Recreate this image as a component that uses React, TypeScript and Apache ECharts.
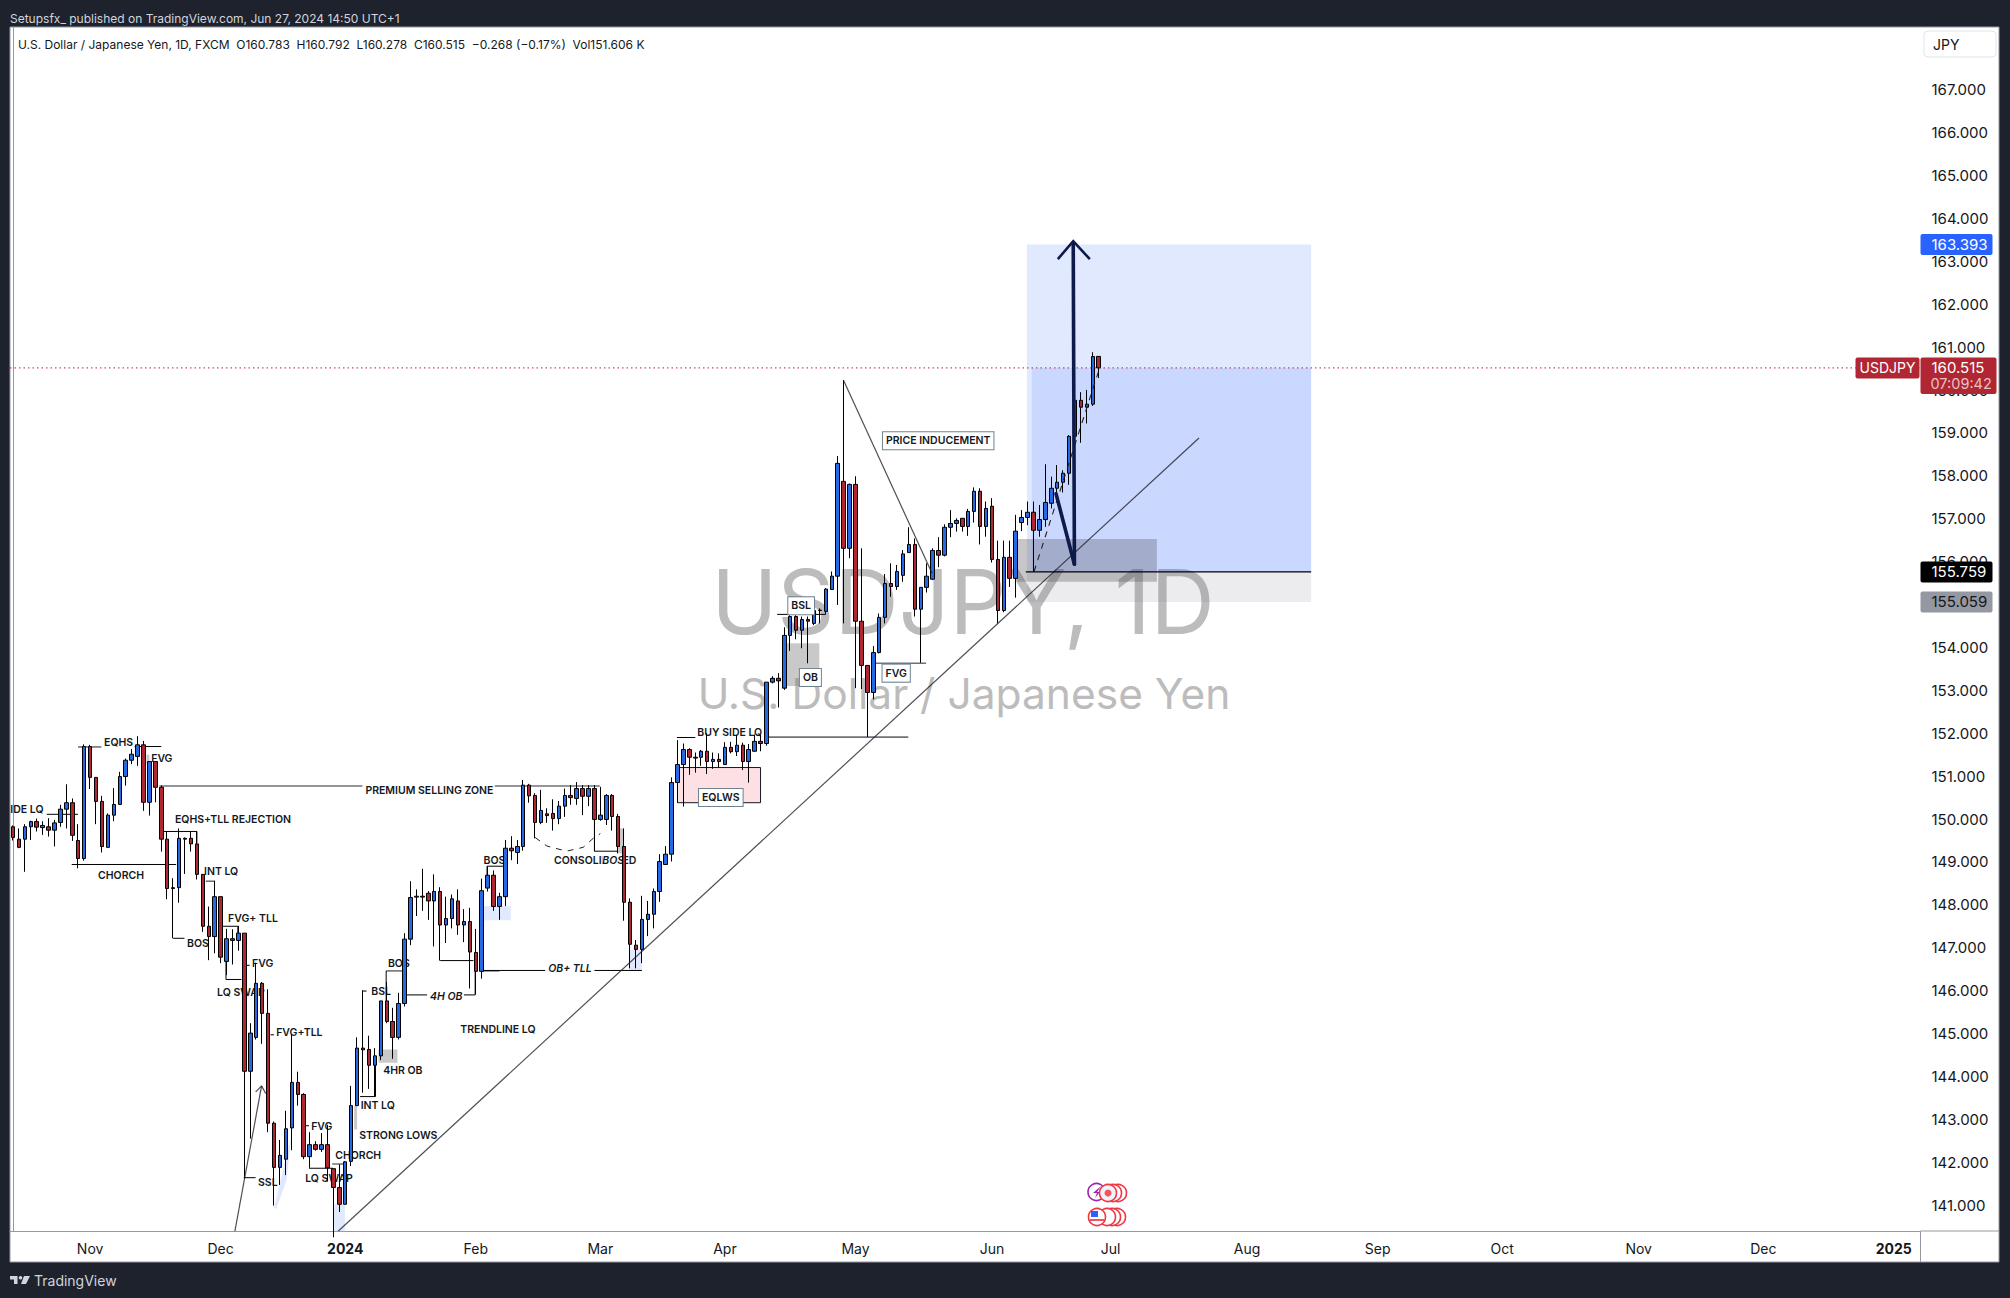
import React, { useEffect, useRef } from "react";
import * as echarts from "echarts";

const FONT = "Inter, 'Noto Sans', sans-serif";

// [open, close, low, high] for each daily bar
const ohlc: number[][] = [
  [149.82,149.57,149.50,149.85],[149.53,149.34,149.32,149.78],[149.53,149.82,148.77,149.88],[149.82,149.94,149.51,149.96],
  [149.94,149.81,149.71,150.01],[149.80,149.85,149.63,149.95],[149.82,149.74,149.59,150.02],[149.74,149.91,149.36,149.98],
  [149.92,150.23,149.82,150.33],[150.23,150.38,149.78,150.81],[150.38,149.62,149.49,150.48],[149.50,149.08,148.85,149.88],
  [149.08,151.69,149.03,151.74],[151.69,150.97,150.70,151.73],[150.97,150.41,149.88,150.97],[150.41,149.36,149.22,150.54],
  [149.34,150.09,149.34,150.13],[150.09,150.34,149.95,150.72],[150.34,150.99,150.34,151.10],[150.99,151.37,150.78,151.41],
  [151.37,151.51,151.28,151.63],[151.46,151.73,151.24,151.93],[151.73,150.39,150.19,151.82],[150.39,151.34,150.08,151.34],
  [151.34,150.74,150.39,151.34],[150.74,149.53,149.24,150.78],[149.53,148.38,148.13,149.72],[148.40,148.38,147.22,148.62],
  [148.40,149.55,148.05,149.78],[149.55,149.53,148.72,149.57],[149.55,149.42,149.24,149.70],[149.42,148.71,148.59,149.72],
  [148.71,147.50,147.37,148.71],[147.50,147.26,146.71,147.96],[147.26,148.19,146.87,148.56],[148.19,146.78,146.64,148.19],
  [146.68,147.21,146.36,147.44],[147.21,147.17,146.61,147.43],[147.17,147.34,146.93,147.51],[147.34,144.12,141.62,147.34],
  [144.12,145.01,142.55,145.24],[144.91,146.17,144.86,146.65],[146.17,145.47,144.76,146.20],[145.47,142.91,142.70,146.03],
  [142.91,141.88,140.99,142.95],[141.88,142.16,141.47,142.52],[142.07,142.78,141.70,143.20],[142.80,143.86,142.28,144.99],
  [143.86,143.58,143.32,144.11],[143.58,142.13,142.07,143.61],[142.13,142.41,141.87,142.70],[142.41,142.30,142.27,142.49],
  [142.30,142.41,142.24,142.68],[142.41,141.87,141.55,142.87],[141.85,141.41,140.25,141.85],[141.41,141.02,140.84,141.95],
  [141.02,142.01,141.02,142.03],[142.02,143.32,141.91,143.78],[143.32,144.66,143.32,144.91],[144.66,144.62,143.62,146.01],
  [144.63,144.26,143.71,144.95],[144.26,144.48,143.53,144.66],[144.48,145.76,144.38,145.76],[145.76,145.28,145.24,146.20],
  [145.28,144.91,144.41,145.60],[144.91,145.70,144.86,145.95],[145.70,147.20,145.63,147.34],[147.20,148.17,147.06,148.55],
  [148.18,148.20,147.74,148.36],[148.20,148.18,147.86,148.84],[148.27,148.09,147.65,148.32],[148.09,148.31,147.03,148.71],
  [148.31,147.53,146.70,148.41],[147.53,147.68,147.11,148.19],[147.68,148.14,147.45,148.24],[148.09,147.53,147.30,148.36],
  [147.53,147.61,147.13,147.90],[147.61,146.90,146.05,147.93],[146.89,146.45,145.91,147.44],[146.45,148.33,146.28,148.61],
  [148.39,148.69,148.31,148.90],[148.69,147.96,147.86,148.80],[147.96,148.19,147.65,148.28],[148.19,149.32,147.97,149.51],
  [149.32,149.26,149.04,149.60],[149.22,149.36,148.95,149.51],[149.36,150.79,149.26,150.91],[150.79,150.54,150.38,150.82],
  [150.55,149.92,149.55,150.60],[149.92,150.20,149.88,150.68],[150.12,150.08,149.91,150.25],[150.13,150.01,149.73,150.46],
  [150.01,150.30,149.88,150.42],[150.30,150.55,150.05,150.71],[150.55,150.50,150.33,150.79],[150.48,150.71,150.33,150.86],
  [150.71,150.53,150.09,150.79],[150.53,150.71,150.30,150.79],[150.71,149.99,149.25,150.79],[149.99,150.09,149.96,150.75],
  [149.99,150.55,149.86,150.58],[150.55,150.06,149.73,150.58],[150.06,149.36,149.20,150.12],[149.36,148.06,147.63,149.78],
  [148.06,147.08,146.52,148.15],[147.06,146.96,146.52,147.18],[146.96,147.66,146.64,148.21],[147.66,147.78,147.27,148.09],
  [147.78,148.31,147.45,148.38],[148.31,149.01,148.07,149.18],[148.94,149.18,148.94,149.37],[149.18,150.85,149.01,150.97],
  [150.85,151.27,150.38,151.84],[151.27,151.62,150.29,151.76],[151.62,151.44,151.03,151.65],[151.44,151.42,151.08,151.55],
  [151.44,151.58,151.24,151.61],[151.58,151.34,151.05,152.00],[151.34,151.39,151.17,151.55],[151.39,151.34,151.20,151.53],
  [151.27,151.67,151.27,151.79],[151.67,151.57,151.53,151.80],[151.57,151.72,151.47,151.96],[151.72,151.34,151.14,151.78],
  [151.34,151.62,150.85,151.75],[151.58,151.81,151.57,151.97],[151.81,151.76,151.58,151.97],[151.76,153.19,151.71,153.19],
  [153.19,153.28,153.16,153.33],[153.28,153.22,152.60,153.40],[153.05,154.28,153.01,154.47],[154.28,154.72,153.92,154.75],
  [154.72,154.40,154.19,154.75],[154.40,154.65,153.98,154.72],[154.65,154.61,153.63,154.72],[154.56,154.86,154.52,154.89],
  [154.87,154.86,154.56,154.91],[154.84,155.36,154.78,155.38],[155.35,155.66,155.34,155.77],[155.66,158.29,154.99,158.46],
  [157.87,156.31,154.56,160.23],[156.31,157.80,156.08,157.82],[157.80,154.61,153.05,157.99],[154.61,153.58,153.03,156.31],
  [153.58,152.95,151.91,153.59],[152.95,153.88,152.79,154.03],[153.88,154.70,153.86,154.79],[154.70,155.49,154.56,155.71],
  [155.49,155.42,155.18,155.96],[155.42,155.77,155.34,155.92],[155.68,156.18,155.53,156.27],[156.21,156.40,156.21,156.80],
  [156.40,154.89,154.72,156.54],[154.89,155.40,153.64,155.40],[155.40,155.66,155.28,155.96],[155.59,156.26,155.57,156.31],
  [156.26,156.15,155.87,156.57],[156.15,156.80,156.12,156.87],[156.80,156.89,156.57,157.20],[156.89,156.96,156.70,157.01],
  [157.01,156.82,156.70,157.01],[156.82,157.17,156.60,157.23],[157.17,157.64,156.91,157.73],[157.64,156.82,156.40,157.71],
  [156.82,157.24,156.58,157.40],[157.29,156.05,155.98,157.48],[156.05,154.86,154.56,156.49],[154.86,156.10,154.82,156.49],
  [156.10,155.61,155.41,156.49],[155.61,156.71,155.16,157.09],[156.91,157.03,156.71,157.20],[157.03,157.15,156.85,157.40],
  [157.15,156.73,155.77,157.40],[156.73,156.98,156.58,157.32],[156.98,157.38,156.81,158.27],[157.36,157.71,157.24,157.98],
  [157.71,157.85,157.59,158.25],[157.85,158.06,157.61,158.13],[158.06,158.92,157.79,158.95],[158.92,159.76,158.72,159.80],
  [159.76,159.60,158.77,159.95],[159.60,159.67,159.22,160.00],[159.67,160.78,159.63,160.88],[160.783,160.515,160.278,160.792],
];

const slotCount = 322;
const categories = Array.from({ length: slotCount }, (_, i) => String(i));
const monthTicks: [number, string][] = [
  [13, "Nov"], [35, "Dec"], [56, "2024"], [78, "Feb"], [99, "Mar"], [120, "Apr"], [142, "May"], [165, "Jun"],
  [185, "Jul"], [208, "Aug"], [230, "Sep"], [251, "Oct"], [274, "Nov"], [295, "Dec"], [317, "2025"],
];
const yearTicks = ["2024", "2025"];
const priceTicks = [141,142,143,144,145,146,147,148,149,150,151,152,153,154,155,156,157,158,159,160,161,162,163,164,165,166,167];

const lastPrice = 160.515;
const targetPrice = 163.393;
const entryPrice = 155.759;
const stopPrice = 155.059;
const priceMax = 168.4615;
const priceMin = 140.39;
const positionStart = 170.9;
const positionStartInner = 171.7;
const positionEnd = 218.8;

// annotation geometry, in bar index / price
const blackSegments: number[][] = [
  [20.5,151.69,25,151.69],[5.7,150.11,10.96,150.11],[9.9,148.94,27.5,148.94],[25.3,149.71,31,149.71],[31,149.71,31,149.44],
  [27,147.22,28.9,147.22],[35.3,147.5,37.9,147.5],[37.9,147.5,37.9,147.32],[35.9,146.68,35.9,146.26],[35.9,146.26,38.5,146.26],
  [39.3,146.59,39.9,146.59],[43.4,144.97,44,144.97],[38.9,141.64,40.9,141.64],[49.3,142.85,49.9,142.85],[49.9,141.86,53.9,141.86],
  [58.5,143.53,61.1,143.53],[61.1,143.53,61.1,144.28],[58.9,145.99,59.6,145.99],[66.4,145.9,69.8,145.9],[76,145.9,77.9,145.9],
  [77.9,145.9,77.9,146.45],[72,146.7,77.6,146.7],[79.2,146.46,82,146.46],[79.9,148.9,82.6,148.9],[79.9,148.9,79.9,148.69],
  [98,149.99,98,149.25],[98,149.25,102,149.25],[79.3,146.47,89.7,146.47],[98,146.47,106,146.47],[111.9,151.9,115,151.9],
  [128.8,154.77,137,154.77],
];
const greySegments: number[][] = [
  [10.96,151.68,14.9,151.68],[24.7,150.77,58.9,150.77],[81.2,150.77,98.9,150.77],[32.5,148.55,34,148.55],[53.8,141.96,56.2,141.96],
  [62.9,146.46,65.6,146.46],[127.4,151.91,150.9,151.91],[145.2,153.63,153.9,153.63],
];
const blackVerticalFromBos: number[][] = [[62.9,146.46,62.9,145.76]];
const trendLines: number[][] = [
  [54.8,140.39,199.9,158.88],[140,160.22,154.9,155.73],[37.4,140.39,41.9,143.78],[40.9,143.64,41.9,143.78],[41.9,143.78,42.6,143.6],
];
const consolidationArc: number[][] = [[88,149.57],[90,149.37],[93.3,149.25],[96.1,149.34],[97.8,149.55],[99,149.66]];
const dashedRun: number[] = [172.1,155.77,183,160.45];
const heavyArrowDown: number[] = [175.8,157.58,178.9,155.94];
const heavyArrowUp: number[] = [178.9,155.94,178.7,163.41];
const heavyArrowHead: number[][] = [[176.1,163.05],[178.7,163.47],[181.5,163.05]];

const greyZones: number[][] = [[102,149.78,103,149.2],[130.4,154.1,135.9,153.1],[57.5,143.32,58,142.76],[61.6,144.63,64.8,144.32],[22.5,151.5,23,151.27]];
const paleBlueZones: number[][] = [[79.3,147.97,83.9,147.64],[103.8,146.95,106,146.48],[54.14,141.02,55.94,140.39]];
const paleBlueSliver: number[][] = [[46.9,142.6],[43.96,140.92],[44.4,140.92],[46.1,141.58]];
const orderBlockZone: number[] = [169.3,156.527,192.8,155.53];
const eqlwsZone: number[] = [112,151.2,126,150.38];

const plainLabels: [string, number, number][] = [
  ["IDE LQ",-0.44,150.23],["EQHS",15.35,151.79],["FVG",23.3,151.4],["EQHS+TLL REJECTION",27.3,149.99],["CHORCH",14.34,148.69],
  ["INT LQ",32.2,148.78],["FVG+ TLL",36.26,147.68],["BOS",29.35,147.1],["FVG",40.3,146.63],["LQ SWAP",34.4,145.95],
  ["FVG+TLL",44.36,145.02],["SSL",41.3,141.53],["FVG",50.26,142.84],["LQ SWAP",49.25,141.62],["CHORCH",54.3,142.16],
  ["STRONG LOWS",58.36,142.63],["INT LQ",58.6,143.32],["4HR OB",62.4,144.14],["BSL",60.4,145.98],["BOS",63.2,146.63],
  ["TRENDLINE LQ",75.4,145.1],["PREMIUM SELLING ZONE",59.4,150.67],["BOS",79.3,149.03],["CONSOLIDATED",91.2,149.04],["BUY SIDE LQ",115.35,152.02],
];
const italicLabels: [string, number, number][] = [["4H OB",70.3,145.86],["OB+ TLL",90.2,146.51]];
const maskedItalicLabels: [string, number, number][] = [["BOS",99.33,149.04]];
const boxedLabels: [string, number, number][] = [["EQLWS",119.3,150.5],["PRICE INDUCEMENT",155.94,158.82],["BSL",132.84,154.97],["OB",134.4,153.3],["FVG",148.86,153.4]];

const BLUE = "#2768e3";
const RED = "#b02632";
const INK = "#131722";
const PANEL_LINE = "#9598a1";

const labelFont = `600 10.5px ${FONT}`;

function lowerLayer(_: any, api: any) {
  const c = (b: number, p: number) => api.coord([b, p]);
  const rect = (z: number[], fill: string, stroke?: string) => {
    const a = c(z[0], z[1]);
    const d = c(z[2], z[3]);
    return { type: "rect", shape: { x: a[0], y: a[1], width: d[0] - a[0], height: d[1] - a[1] }, style: { fill, stroke, lineWidth: stroke ? 1 : 0 } };
  };
  const seg = (s: number[], stroke: string, lineWidth: number) => {
    const a = c(s[0], s[1]);
    const d = c(s[2], s[3]);
    return { type: "line", shape: { x1: a[0], y1: a[1], x2: d[0], y2: d[1] }, style: { stroke, lineWidth, fill: "none" } };
  };
  const text = (l: [string, number, number], font: string, extra: any = {}) => {
    const a = c(l[1], l[2]);
    return { type: "text", style: { text: l[0], x: a[0], y: a[1], font, fill: INK, align: "left", verticalAlign: "middle", ...extra } };
  };
  const children: any[] = [];
  children.push(rect([positionStart, targetPrice, positionEnd, entryPrice], "rgba(41,98,255,0.14)"));
  children.push(rect([positionStartInner, lastPrice, positionEnd, entryPrice], "rgba(41,98,255,0.12)"));
  children.push(rect([positionStart, entryPrice, positionEnd, stopPrice], "rgba(120,123,134,0.14)"));
  greyZones.forEach((z) => children.push(rect(z, "rgba(120,120,120,0.4)")));
  paleBlueZones.forEach((z) => children.push(rect(z, "#e0e9fd")));
  children.push({ type: "polygon", shape: { points: paleBlueSliver.map((q) => c(q[0], q[1])) }, style: { fill: "#dfe8fd" } });
  children.push(rect(eqlwsZone, "#fde0e3", "#131722"));
  children.push(rect(orderBlockZone, "rgba(80,80,90,0.32)"));
  greySegments.forEach((s) => children.push(seg(s, "#6f7278", 1.6)));
  blackSegments.forEach((s) => children.push(seg(s, "#000", 1)));
  blackVerticalFromBos.forEach((s) => children.push(seg(s, "#000", 1)));
  children.push({
    type: "polyline",
    shape: { points: consolidationArc.map((q) => c(q[0], q[1])) },
    style: { stroke: "#222", lineWidth: 1, lineDash: [6, 6], fill: "none" },
  });
  plainLabels.forEach((l) => children.push(text(l, labelFont)));
  italicLabels.forEach((l) => children.push(text(l, `italic ${labelFont}`)));
  maskedItalicLabels.forEach((l) => children.push(text(l, `italic ${labelFont}`, { backgroundColor: "#fff" })));
  return { type: "group", children };
}

function upperLayer(_: any, api: any) {
  const c = (b: number, p: number) => api.coord([b, p]);
  const seg = (s: number[], stroke: string, lineWidth: number, extra: any = {}) => {
    const a = c(s[0], s[1]);
    const d = c(s[2], s[3]);
    return { type: "line", shape: { x1: a[0], y1: a[1], x2: d[0], y2: d[1] }, style: { stroke, lineWidth, fill: "none", ...extra } };
  };
  const children: any[] = [];
  trendLines.forEach((s) => children.push(seg(s, "rgba(30,30,40,0.78)", 1.2)));
  children.push(seg([-0.5, lastPrice, 321.5, lastPrice], "#b02632", 1, { lineDash: [1.5, 3] }));
  children.push(seg(dashedRun, "#222", 1.1, { lineDash: [6, 6] }));
  children.push(seg([positionStart - 0.2, entryPrice, positionEnd, entryPrice], "#000", 1.2));
  children.push(seg(heavyArrowDown, "#0d1a4a", 3.6, { lineCap: "round" }));
  children.push(seg(heavyArrowUp, "#0d1a4a", 3.6, { lineCap: "round" }));
  children.push({
    type: "polyline",
    shape: { points: heavyArrowHead.map((q) => c(q[0], q[1])) },
    style: { stroke: "#0d1a4a", lineWidth: 2.6, fill: "none" },
  });
  boxedLabels.forEach((l) => {
    const a = c(l[1], l[2]);
    children.push({
      type: "text",
      style: {
        text: l[0], x: a[0], y: a[1], font: labelFont, fill: INK, align: "center", verticalAlign: "middle",
        backgroundColor: "#fff", borderColor: "#6f8290", borderWidth: 1, padding: [3, 3, 3, 3],
      },
    });
  });
  return { type: "group", children };
}

function priceTags(_: any, api: any) {
  const edge = api.coord([321.5, lastPrice])[0];
  const priceFont = `400 15px ${FONT}`;
  const tag = (price: number, fill: string, color: string, width: number) => {
    const y = api.coord([0, price])[1];
    return [
      { type: "rect", shape: { x: edge, y: y - 10.5, width, height: 21, r: 2 }, style: { fill } },
      { type: "text", style: { text: price.toFixed(3), x: edge + 11, y, font: priceFont, fill: color, align: "left", verticalAlign: "middle" } },
    ];
  };
  const lastY = api.coord([0, lastPrice])[1];
  const children: any[] = [
    ...tag(targetPrice, "#2962ff", "#fff", 72),
    ...tag(entryPrice, "#000", "#fff", 72),
    ...tag(stopPrice, "#9598a1", INK, 72),
    { type: "rect", shape: { x: edge, y: lastY - 10.5, width: 76, height: 36.5, r: 2 }, style: { fill: RED } },
    { type: "text", style: { text: lastPrice.toFixed(3), x: edge + 11, y: lastY, font: priceFont, fill: "#fff", align: "left", verticalAlign: "middle" } },
    { type: "text", style: { text: "07:09:42", x: edge + 10, y: lastY + 15.5, font: `400 14.5px ${FONT}`, fill: "rgba(255,255,255,0.72)", align: "left", verticalAlign: "middle" } },
    { type: "rect", shape: { x: edge - 65, y: lastY - 10.5, width: 64, height: 21, r: 2 }, style: { fill: RED } },
    { type: "text", style: { text: "USDJPY", x: edge - 33, y: lastY, font: `400 14px ${FONT}`, fill: "#fff", align: "center", verticalAlign: "middle" } },
  ];
  return { type: "group", children };
}

function decorations(): any[] {
  const ring = (cx: number, cy: number, stroke: string, fill: string, z: number) => ({
    type: "circle", z, shape: { cx, cy, r: 8.5 }, style: { fill, stroke, lineWidth: 1.6 },
  });
  const items: any[] = [
    { type: "rect", z: -10, shape: { x: 10, y: 27, width: 1989, height: 1235 }, style: { fill: "#fff", stroke: PANEL_LINE, lineWidth: 1 } },
    { type: "text", z: -5, style: { text: "USDJPY, 1D", x: 963, y: 601, font: `400 89px ${FONT}`, fill: "#bcbcbc", align: "center", verticalAlign: "middle" } },
    { type: "text", z: -5, style: { text: "U.S. Dollar / Japanese Yen", x: 964, y: 693, font: `400 42.5px ${FONT}`, fill: "#bcbcbc", align: "center", verticalAlign: "middle" } },
    { type: "text", z: 50, style: { text: "Setupsfx_ published on TradingView.com, Jun 27, 2024 14:50 UTC+1", x: 10, y: 18, font: `400 12px ${FONT}`, fill: "#d1d4dc", align: "left", verticalAlign: "middle" } },
    { type: "text", z: 50, style: { text: "U.S. Dollar / Japanese Yen, 1D, FXCM  O160.783  H160.792  L160.278  C160.515  −0.268 (−0.17%)  Vol151.606 K", x: 18, y: 44.5, font: `400 12px ${FONT}`, fill: INK, align: "left", verticalAlign: "middle" } },
    { type: "rect", z: 50, shape: { x: 1924, y: 31, width: 72, height: 26, r: 4 }, style: { fill: "#fff", stroke: "#e0e3eb", lineWidth: 1 } },
    { type: "text", z: 51, style: { text: "JPY", x: 1933, y: 44, font: `400 14px ${FONT}`, fill: INK, align: "left", verticalAlign: "middle" } },
    { type: "line", z: 20, shape: { x1: 1920.5, y1: 1231, x2: 1999, y2: 1231 }, style: { stroke: PANEL_LINE, lineWidth: 1 } },
    { type: "line", z: 20, shape: { x1: 1920.5, y1: 1231, x2: 1920.5, y2: 1262 }, style: { stroke: PANEL_LINE, lineWidth: 1 } },
    // TradingView mark and word
    { type: "polygon", z: 50, shape: { points: [[10, 1276], [17.5, 1276], [17.5, 1284], [14, 1284], [14, 1279.5], [10, 1279.5]] }, style: { fill: "#d1d4dc" } },
    { type: "circle", z: 50, shape: { cx: 20.5, cy: 1277.8, r: 1.8 }, style: { fill: "#d1d4dc" } },
    { type: "polygon", z: 50, shape: { points: [[24, 1276], [30, 1276], [26, 1284], [21, 1284]] }, style: { fill: "#d1d4dc" } },
    { type: "text", z: 50, style: { text: "TradingView", x: 34, y: 1280, font: `400 14px ${FONT}`, fill: "#d1d4dc", align: "left", verticalAlign: "middle" } },
    // event flags
    ring(1096.5, 1192, "#9c27b0", "#fff", 30),
    { type: "polygon", z: 30, shape: { points: [[1101, 1186], [1093, 1193], [1097, 1193], [1095, 1198], [1100, 1192], [1097, 1192]] }, style: { fill: "#9c27b0" } },
    ring(1118, 1193, "#f23645", "#fff", 31),
    ring(1113, 1193, "#f23645", "#fff", 32),
    ring(1108, 1193, "#f23645", "#f0f3fa", 33),
    { type: "circle", z: 34, shape: { cx: 1108, cy: 1193, r: 3.5 }, style: { fill: "#f7525f" } },
    ring(1117, 1217, "#f23645", "#fff", 31),
    ring(1112, 1217, "#f23645", "#fff", 32),
    ring(1107, 1217, "#f23645", "#fff", 33),
    ring(1097, 1217, "#f23645", "#fff", 34),
    { type: "rect", z: 35, shape: { x: 1091, y: 1211, width: 7, height: 6 }, style: { fill: "#2962ff" } },
    { type: "rect", z: 35, shape: { x: 1090, y: 1219, width: 14, height: 2 }, style: { fill: "#f7525f" } },
  ];
  return items;
}

export default function App() {
  const ref = useRef<HTMLDivElement>(null);
  useEffect(() => {
    document.body.style.margin = "0";
    document.body.style.background = "#1e222d";
    const chart = echarts.init(ref.current!, undefined, { renderer: "svg" });
    const tickAt = new Map(monthTicks);
    chart.setOption({
      animation: false,
      backgroundColor: "#1e222d",
      textStyle: { fontFamily: FONT },
      grid: { left: 10, top: 27, width: 1910.5, height: 1204.3 },
      xAxis: [
        {
          type: "category",
          data: categories,
          axisLine: { show: true, lineStyle: { color: PANEL_LINE, width: 1 } },
          axisTick: { show: false },
          splitLine: { show: false },
          axisLabel: {
            interval: (index: number) => tickAt.has(index),
            margin: 10,
            fontSize: 14,
            fontFamily: FONT,
            color: INK,
            formatter: (v: string) => {
              const t = tickAt.get(Number(v)) ?? "";
              return yearTicks.includes(t) ? `{y|${t}}` : t;
            },
            rich: { y: { fontSize: 14, fontWeight: 700, fontFamily: FONT, color: INK } },
          },
        },
        { type: "value", min: -0.5, max: slotCount - 0.5, show: false },
      ],
      yAxis: {
        type: "value",
        position: "right",
        min: priceMin,
        max: priceMax,
        scale: true,
        axisLine: { show: true, lineStyle: { color: PANEL_LINE, width: 1 } },
        axisTick: { show: false },
        splitLine: { show: false },
        axisLabel: {
          customValues: priceTicks,
          formatter: (v: number) => v.toFixed(3),
          margin: 11,
          fontSize: 15,
          fontFamily: FONT,
          color: INK,
        },
      },
      graphic: { elements: decorations() },
      series: [
        { type: "custom", name: "drawings", xAxisIndex: 1, yAxisIndex: 0, z: 1, silent: true, clip: true, renderItem: lowerLayer, data: [[0, lastPrice]] },
        {
          type: "candlestick",
          name: "USDJPY",
          xAxisIndex: 0,
          yAxisIndex: 0,
          z: 2,
          barWidth: 4,
          data: ohlc,
          itemStyle: { color: BLUE, color0: RED, borderColor: "#000", borderColor0: "#000", borderColorDoji: "#000", borderWidth: 1 },
        },
        { type: "custom", name: "overlays", xAxisIndex: 1, yAxisIndex: 0, z: 3, silent: true, clip: true, renderItem: upperLayer, data: [[0, lastPrice]] },
        { type: "custom", name: "tags", xAxisIndex: 1, yAxisIndex: 0, z: 10, silent: true, clip: false, renderItem: priceTags, data: [[0, lastPrice]] },
      ],
    });
    return () => chart.dispose();
  }, []);
  return <div ref={ref} style={{ position: "absolute", left: 0, top: 0, width: 2010, height: 1298 }} />;
}
